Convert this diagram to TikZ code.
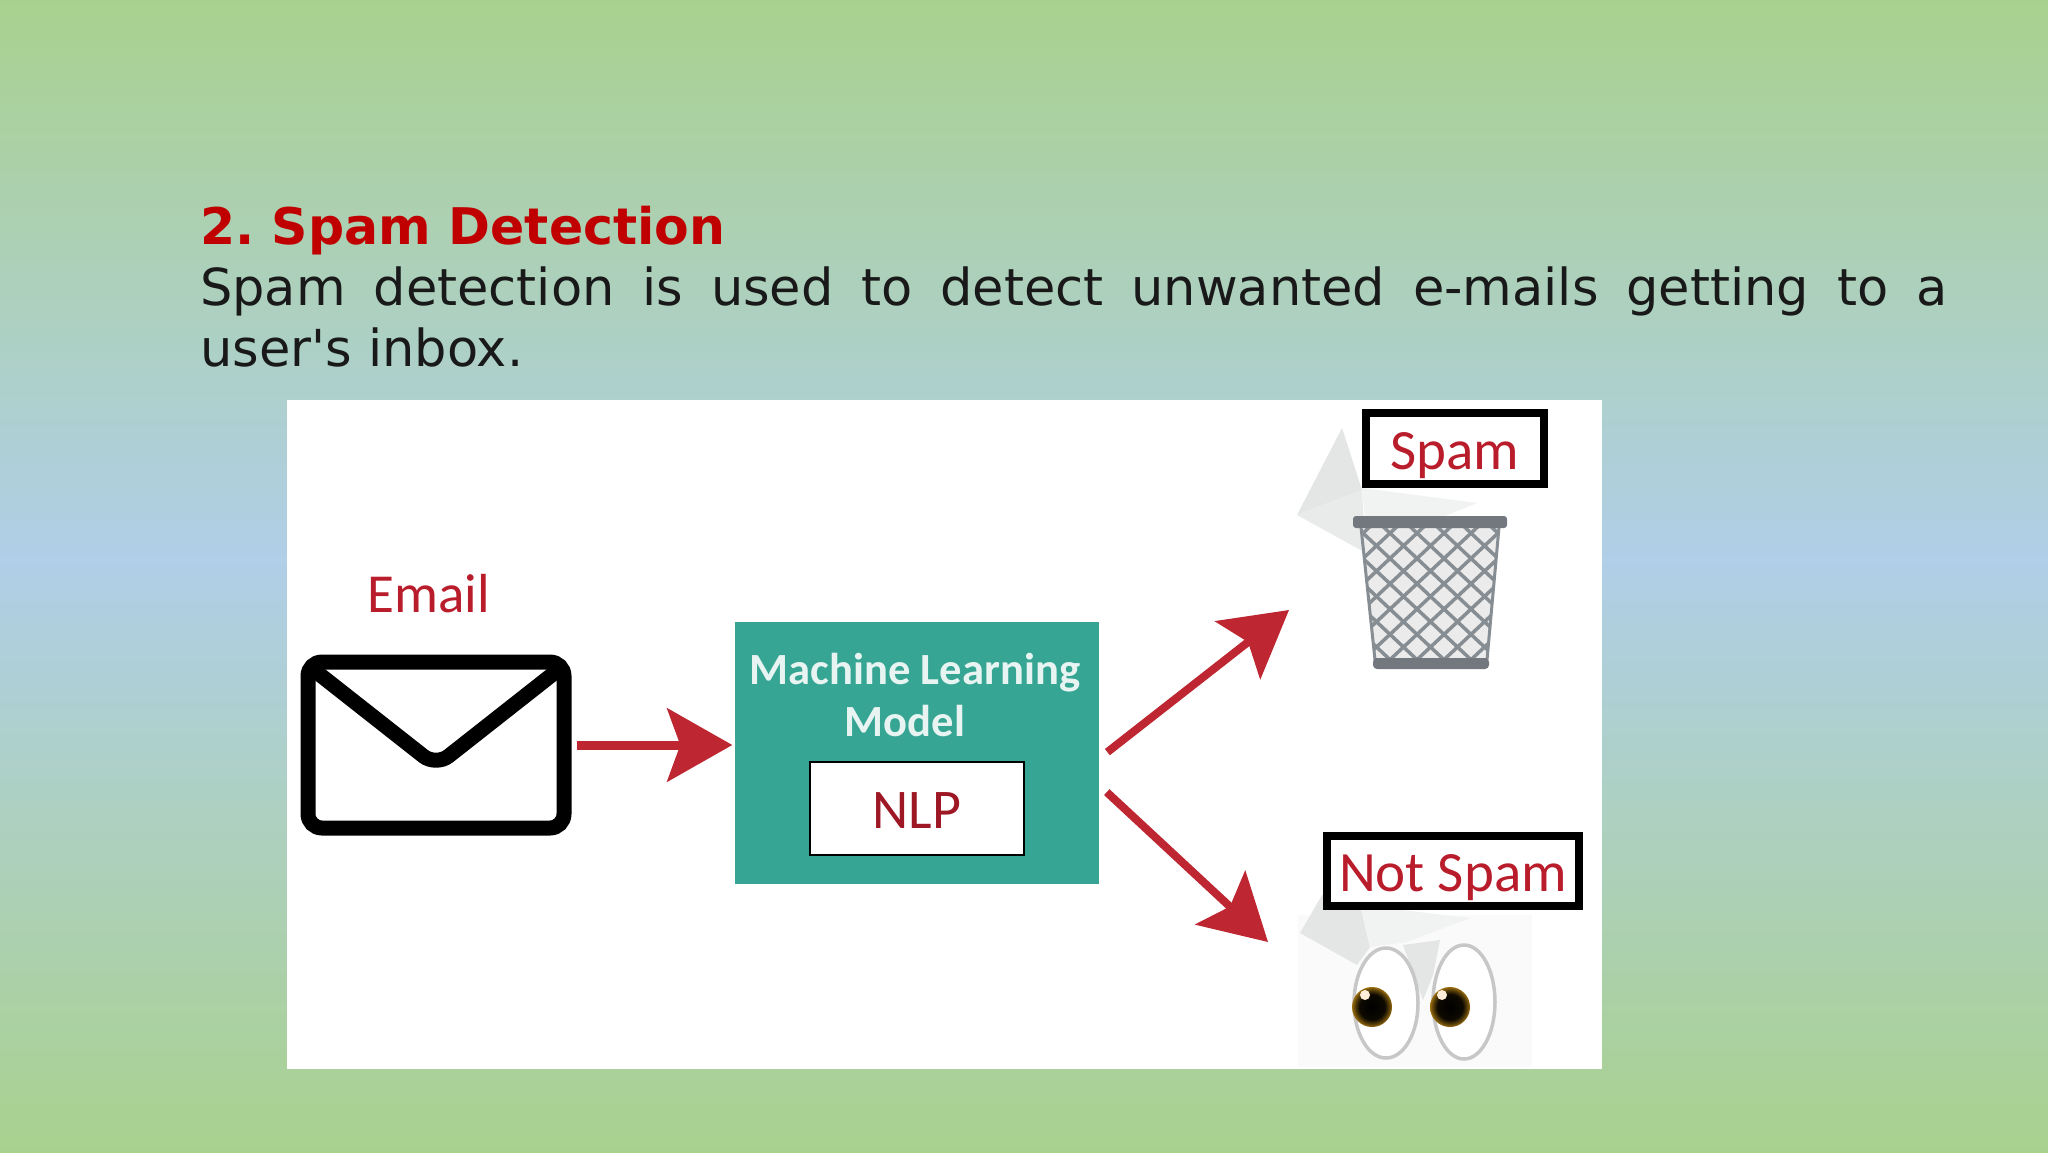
\documentclass[tikz,border=0pt]{standalone}
\usepackage{fontspec}
\setmainfont{DejaVu Sans}[Ligatures=TeXOff]
\newfontfamily\carlito{Carlito}
\usetikzlibrary{arrows.meta,positioning}
\definecolor{slidegreen}{HTML}{A9D18E}
\definecolor{slideblue}{HTML}{B0CFE8}
\definecolor{headred}{HTML}{C00000}
\definecolor{arrowred}{HTML}{BE2631}
\definecolor{labelred}{HTML}{B91C2A}
\definecolor{modelteal}{HTML}{36A593}
\definecolor{mailgray}{HTML}{E4E6E6}
\definecolor{meshgray}{HTML}{868D93}
\definecolor{irisbrown}{HTML}{A87810}
\pgfdeclareradialshading{iris}{\pgfpoint{0bp}{0bp}}{color(0bp)=(black); color(16bp)=(black!92!irisbrown); color(21bp)=(irisbrown!50!black); color(26bp)=(irisbrown); color(50bp)=(irisbrown)}
\tikzset{
  flow/.style={draw=arrowred,line width=9pt,-{Stealth[length=65pt,width=73pt,inset=13pt]}},
  tagbox/.style={draw=black,fill=white,line width=8pt,inner sep=0pt,text=labelred,text height=41pt,text depth=0pt,font=\carlito\fontsize{57}{60}\selectfont},
  eye/.style={draw=black!22,fill=white,line width=3.5pt},
}
\begin{document}
\begin{tikzpicture}[x=1pt,y=-1pt]
\useasboundingbox (0,0) rectangle (2048,1152);
\shade[top color=slidegreen,bottom color=slideblue] (0,0) rectangle (2048,560);
\shade[top color=slideblue,bottom color=slidegreen] (0,559) rectangle (2048,1152);
% heading and text
\node[anchor=base west,inner sep=0pt,text=headred,font=\fontsize{50.5}{61}\selectfont\bfseries] (title) at (200,244) {2.\kern-6pt{} Spam Detection};
\node[anchor=north west,inner sep=0pt,text width=1747pt,align=justify,text=black!90,font=\fontsize{51}{61}\selectfont] (body) at (200,267) {Spam detection is used to detect unwanted e-mails getting to a\linebreak user's inbox.};
\fill[white] (287,400) rectangle (1602,1069);
% email
\node[draw=black,fill=white,line width=15pt,rounded corners=14pt,minimum width=256pt,minimum height=166pt] (email) at (436,745) {};
\draw[line width=15pt,rounded corners=16pt,line cap=round] (314,670) -- (436,766) -- (558,670);
\node[anchor=base,text=labelred,font=\carlito\fontsize{55}{60}\selectfont,inner sep=0pt] (emaillabel) at (429,612) {Email};
% model
\node[fill=modelteal,minimum width=364pt,minimum height=262pt] (model) at (916.5,752.5) {};
\node[text=white!88!modelteal,font=\carlito\bfseries\fontsize{44.6}{52}\selectfont,align=center,inner sep=0pt,anchor=base] (mltext) at (915,736) {Machine Learning\\Model\hspace*{20pt}};
\node[draw=black,fill=white,line width=2.5pt,minimum width=214pt,minimum height=93pt,inner sep=0pt,text=labelred!85!black,text height=39pt,text depth=0pt,font=\carlito\fontsize{56}{60}\selectfont] (nlp) at (917,808.5) {NLP};
% spam side
\coordinate (spamtip) at (1289,610);
\coordinate (hamtip) at (1268,942);
\fill[mailgray] (1342,428) -- (1297,515) -- (1362,490) -- cycle;
\fill[mailgray!80!white] (1297,515) -- (1362,490) -- (1366,553) -- cycle;
\fill[mailgray!50!white] (1362,488) -- (1477,503) -- (1440,518) -- (1365,518) -- cycle;
\fill[black!8] (1361,527) -- (1499,527) -- (1487,660) -- (1375,660) -- cycle;
\begin{scope}
\clip (1361,527) -- (1499,527) -- (1487,660) -- (1375,660) -- cycle;
\foreach \i in {0,...,13} {
  \draw[meshgray,line width=3.5pt] (1160+\i*27,520) -- (1320+\i*27,670);
  \draw[meshgray,line width=3.5pt] (1350+\i*27,520) -- (1190+\i*27,670);
}
\end{scope}
\draw[meshgray,line width=3pt] (1361,527) -- (1375,660) (1499,527) -- (1487,660);
\fill[meshgray!85!black,rounded corners=3pt] (1353,516) rectangle (1507,528);
\fill[meshgray!85!black,rounded corners=4pt] (1373,658) rectangle (1489,669);
\node[tagbox,minimum width=178pt,minimum height=71pt] (spam) at (1455,448.5) {Spam};
% not spam side
\fill[black!2] (1298,915) rectangle (1532,1067);
\fill[mailgray] (1300,933) -- (1322,895) -- (1360,905) -- (1370,947) -- (1357,965) -- cycle;
\fill[mailgray!50!white] (1360,905) -- (1470,918) -- (1407,942) -- (1370,947) -- cycle;
\fill[mailgray] (1403,945) -- (1423,1000) -- (1433,975) -- (1440,940) -- cycle;
\draw[eye] (1386,1003) ellipse [x radius=32pt,y radius=55pt];
\draw[eye] (1464,1002) ellipse [x radius=31pt,y radius=57pt];
\shade[shading=iris] (1372,1007) circle [radius=20pt];
\shade[shading=iris] (1450,1007) circle [radius=20pt];
\fill[white!85!orange] (1365,995) circle [radius=5pt];
\fill[white!85!orange] (1442,995) circle [radius=5pt];
\node[tagbox,minimum width=252pt,minimum height=70pt] (notspam) at (1453,871) {Not Spam};
% connectors
\draw[flow,shorten <=5pt,shorten >=2pt] (email.east) -- (model.west |- email.east);
\draw[flow,shorten <=11pt,line width=8pt] (model.-2) -- (spamtip);
\draw[flow,shorten <=11pt,line width=8pt] (model.-10) -- (hamtip);
\end{tikzpicture}
\end{document}
